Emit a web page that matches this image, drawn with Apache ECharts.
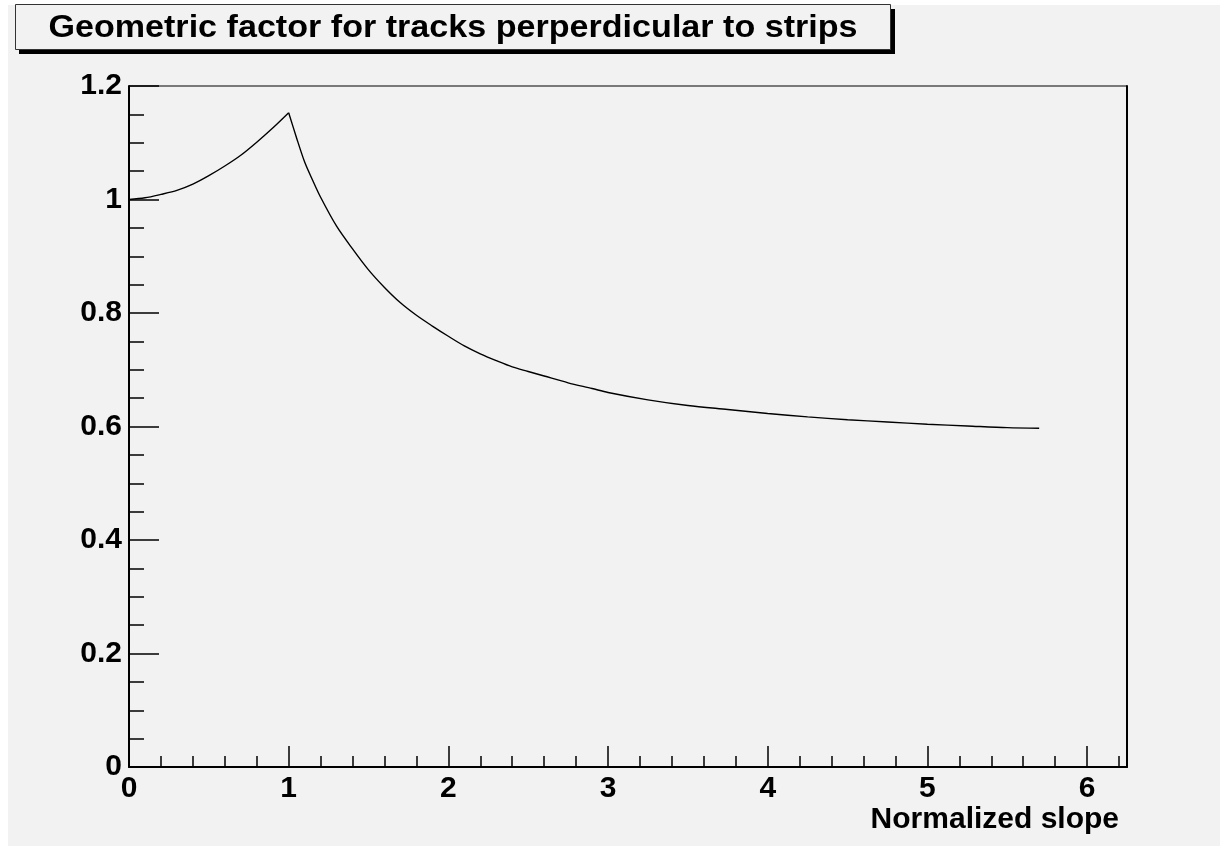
<!DOCTYPE html>
<html>
<head>
<meta charset="utf-8">
<title>Geometric factor for tracks perperdicular to strips</title>
<script src="https://cdn.jsdelivr.net/npm/echarts@6/dist/echarts.min.js"></script>
<style>
  html, body { margin: 0; padding: 0; background: #ffffff; }
  #chart { width: 1232px; height: 846px; }
</style>
</head>
<body>
<div id="chart"></div>
<script>
// Normalized slope values (x) and the geometric factor (y) along the curve:
// a rising branch up to the cusp at slope 1, then a falling branch.
const slopeRising = [0.0, 0.1, 0.2, 0.3, 0.4, 0.5, 0.6, 0.7, 0.8, 0.9, 1.0];
const factorRising = [1.000, 1.003, 1.009, 1.016, 1.027, 1.042, 1.059, 1.078, 1.101, 1.126, 1.153];

const slopeFalling = [1.0, 1.05, 1.1, 1.15, 1.2, 1.3, 1.4, 1.5, 1.6, 1.7, 1.8, 1.9, 2.0,
                      2.1, 2.2, 2.3, 2.4, 2.5, 2.6, 2.75, 2.9, 3.0, 3.25, 3.5, 3.75,
                      4.0, 4.25, 4.5, 4.75, 5.0, 5.25, 5.5, 5.7];
const factorFalling = [1.153, 1.108, 1.066, 1.034, 1.004, 0.953, 0.913, 0.876, 0.845, 0.818, 0.796, 0.777, 0.759,
                       0.742, 0.728, 0.716, 0.705, 0.697, 0.689, 0.677, 0.667, 0.660, 0.647, 0.637, 0.630,
                       0.623, 0.617, 0.612, 0.608, 0.604, 0.601, 0.598, 0.597];

const titleText = 'Geometric factor for tracks perperdicular to strips';
const xAxisTitle = 'Normalized slope';

const xRange = [0, 6.25];
const yRange = [0, 1.2];

const zip = (xs, ys) => xs.map((x, i) => [x, ys[i]]);

const FONT = '"Liberation Sans", Arial, Helvetica, sans-serif';
const labelStyle = {
  color: '#000', fontFamily: FONT, fontWeight: 'bold', fontSize: 30
};
const curveStyle = { color: '#000', width: 1.4 };

const chart = echarts.init(document.getElementById('chart'), null, { renderer: 'canvas' });

chart.setOption({
  animation: false,
  backgroundColor: '#f2f2f2',
  grid: {
    left: 129, top: 86, right: 105, bottom: 79,
    show: true, backgroundColor: '#f2f2f2',
    borderColor: '#000', borderWidth: 1
  },
  xAxis: [
    {
      type: 'value', min: xRange[0], max: xRange[1], interval: 1, position: 'bottom',
      axisLine: { show: true, onZero: false, lineStyle: { color: '#000', width: 2 } },
      axisTick: { show: true, inside: true, length: 21, lineStyle: { color: '#000', width: 1.5 } },
      axisLabel: Object.assign({ margin: 7, showMaxLabel: false }, labelStyle),
      splitLine: { show: false },
      name: xAxisTitle, nameLocation: 'end', nameGap: -8,
      nameTextStyle: {
        color: '#000', fontFamily: FONT, fontWeight: 'bold', fontSize: 30,
        align: 'right', verticalAlign: 'top', padding: [38, 0, 0, 0]
      }
    },
    {
      // minor subdivisions every 0.2 along the slope axis
      type: 'value', min: xRange[0], max: xRange[1], interval: 0.2, position: 'bottom',
      axisLine: { show: false },
      axisTick: { show: true, inside: true, length: 11, lineStyle: { color: '#000', width: 1.5 } },
      axisLabel: { show: false },
      splitLine: { show: false }
    }
  ],
  yAxis: [
    {
      type: 'value', min: yRange[0], max: yRange[1], interval: 0.2, position: 'left',
      axisLine: { show: true, onZero: false, lineStyle: { color: '#000', width: 2 } },
      axisTick: { show: true, inside: true, length: 30, lineStyle: { color: '#000', width: 1.5 } },
      minorTick: { show: true, splitNumber: 4, length: 15, lineStyle: { color: '#000', width: 1.5 } },
      axisLabel: Object.assign({ margin: 7 }, labelStyle),
      splitLine: { show: false }
    },
    {
      type: 'value', min: yRange[0], max: yRange[1], interval: 0.2, position: 'right',
      axisLine: { show: true, onZero: false, lineStyle: { color: '#000', width: 2 } },
      axisTick: { show: false },
      axisLabel: { show: false },
      splitLine: { show: false }
    }
  ],
  series: [
    {
      name: 'rising', type: 'line', xAxisIndex: 0, yAxisIndex: 0,
      data: zip(slopeRising, factorRising), symbol: 'none', smooth: 0.3,
      lineStyle: curveStyle
    },
    {
      name: 'falling', type: 'line', xAxisIndex: 0, yAxisIndex: 0,
      data: zip(slopeFalling, factorFalling), symbol: 'none', smooth: 0.3,
      lineStyle: curveStyle
    }
  ],
  graphic: [
    // white margins around the canvas
    { type: 'rect', silent: true, z: 50, shape: { x: 0, y: 0, width: 1232, height: 5 }, style: { fill: '#fff' } },
    { type: 'rect', silent: true, z: 50, shape: { x: 0, y: 0, width: 8, height: 846 }, style: { fill: '#fff' } },
    { type: 'rect', silent: true, z: 50, shape: { x: 1220, y: 0, width: 12, height: 846 }, style: { fill: '#fff' } },
    // title box with drop shadow
    { type: 'rect', silent: true, z: 60, shape: { x: 19, y: 9, width: 876, height: 45 }, style: { fill: '#000' } },
    { type: 'rect', silent: true, z: 61, shape: { x: 15.5, y: 4.5, width: 875, height: 45 },
      style: { fill: '#f2f2f2', stroke: '#333', lineWidth: 1 } },
    { type: 'text', silent: true, z: 62, x: 453, y: 28, scaleX: 1.1,
      style: { text: titleText, fill: '#000', font: 'bold 31px ' + FONT, align: 'center', verticalAlign: 'middle' } }
  ]
});
</script>
</body>
</html>
